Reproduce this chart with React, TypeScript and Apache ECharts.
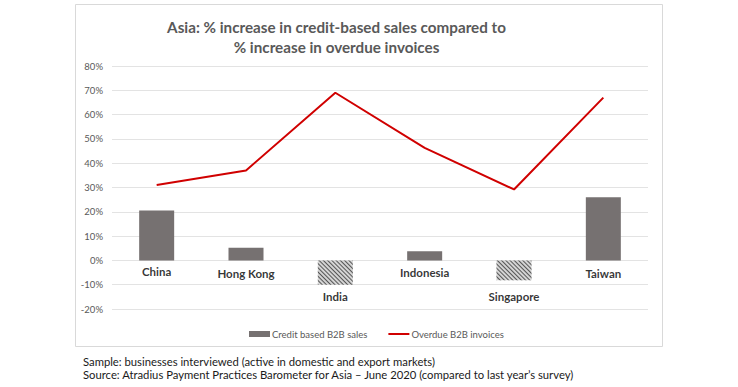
import React, { useEffect, useRef } from "react";
import * as echarts from "echarts";

const categories = ["China", "Hong Kong", "India", "Indonesia", "Singapore", "Taiwan"];
const creditSales = [20.5, 5.2, -10, 3.8, -8.2, 26];
const overdueInvoices = [31, 37, 69, 46.3, 29.2, 67];
const labelLevels = [-4.7, -5.5, -14.7, -4.9, -14.9, -5.2];
const titleLines = [
  "Asia: % increase in credit-based sales compared to",
  "% increase in overdue invoices",
];
const footerLines = [
  "Sample: businesses interviewed (active in domestic and export markets)",
  "Source: Atradius Payment Practices Barometer for Asia \u2013 June 2020 (compared to last year\u2019s survey)",
];
const seriesNames = ["Credit based B2B sales", "Overdue B2B invoices"];

const FONT = "Lato, 'Open Sans', sans-serif";

function measure(text: string, font: string): number {
  const c = document.createElement("canvas").getContext("2d")!;
  c.font = font;
  return c.measureText(text).width;
}

export default function App() {
  const ref = useRef<HTMLDivElement>(null);
  useEffect(() => {
    document.body.style.margin = "0";
    const chart = echarts.init(ref.current!, null, { renderer: "svg" });
    const titleSize = 15.5;
    const titleScale = 339 / measure(titleLines[0], `bold ${titleSize}px ${FONT}`);
    const footerSize = 11.5;
    const footerScale = 493 / measure(footerLines[1], `${footerSize}px ${FONT}`);
    const option: any = {
      animation: false,
      backgroundColor: "#ffffff",
      grid: { left: 112, right: 90, top: 66, bottom: 78, containLabel: false },
      legend: {
        data: [
          { name: seriesNames[0], icon: "rect" },
          { name: seriesNames[1], itemStyle: { opacity: 0 } },
        ],
        left: 244,
        top: 324,
        itemWidth: 21,
        itemHeight: 6,
        itemGap: 20,
        textStyle: { fontFamily: FONT, fontSize: 9.5, color: "#595959", padding: [0, 0, 0, -3] },
      },
      xAxis: {
        type: "category",
        data: categories,
        axisLine: { show: false },
        axisTick: { show: false },
        axisLabel: { show: false },
        splitLine: { show: false },
      },
      yAxis: {
        type: "value",
        min: -20,
        max: 80,
        interval: 10,
        axisLine: { show: false },
        axisTick: { show: false },
        axisLabel: {
          formatter: "{value}%",
          fontFamily: FONT,
          fontSize: 9.5,
          color: "#595959",
          margin: 9,
        },
        splitLine: { lineStyle: { color: "#e3e3e3", width: 1 } },
      },
      graphic: [
        {
          type: "rect",
          shape: { x: 75.5, y: 4.5, width: 587, height: 342 },
          style: { fill: "none", stroke: "#d9d9d9", lineWidth: 1 },
          silent: true,
          z: -1,
        },
        ...titleLines.map((t, i) => ({
          type: "text",
          x: 336.5,
          y: 27 + i * 20,
          scaleX: titleScale,
          style: {
            text: t,
            fontFamily: FONT,
            fontSize: titleSize,
            fontWeight: "bold",
            fill: "#595959",
            textAlign: "center",
            textVerticalAlign: "middle",
          },
        })),
        ...footerLines.map((t, i) => ({
          type: "text",
          x: 83,
          y: 361 + i * 13.3,
          scaleX: footerScale,
          style: {
            text: t,
            fontFamily: FONT,
            fontSize: footerSize,
            fill: "#1a1a1a",
            textVerticalAlign: "middle",
          },
        })),
      ],
      series: [
        {
          name: seriesNames[0],
          type: "bar",
          barWidth: 35,
          itemStyle: { color: "#767171" },
          data: creditSales.map((v) =>
            v < 0
              ? {
                  value: v,
                  itemStyle: {
                    color: "#d4d4d4",
                    decal: {
                      symbol: "rect",
                      symbolSize: 1,
                      dashArrayX: [1, 0],
                      dashArrayY: [1, 1.4],
                      rotation: Math.PI / 4,
                      color: "#555555",
                    },
                  },
                }
              : v
          ),
        },
        {
          name: seriesNames[1],
          type: "line",
          symbol: "none",
          lineStyle: { color: "#d00000", width: 2 },
          itemStyle: { color: "#d00000" },
          data: overdueInvoices,
          z: 3,
        },
        {
          name: "labels",
          type: "scatter",
          symbolSize: 0,
          silent: true,
          data: labelLevels.map((v, i) => [categories[i], v]),
          label: {
            show: true,
            position: "inside",
            formatter: (p: any) => categories[p.dataIndex],
            fontFamily: FONT,
            fontSize: 11.5,
            fontWeight: "bold",
            color: "#000000",
          },
        },
      ],
    };
    chart.setOption(option);
    return () => chart.dispose();
  }, []);
  return (
    <div
      ref={ref}
      style={{ position: "absolute", left: 0, top: 0, width: 738, height: 387 }}
    />
  );
}
